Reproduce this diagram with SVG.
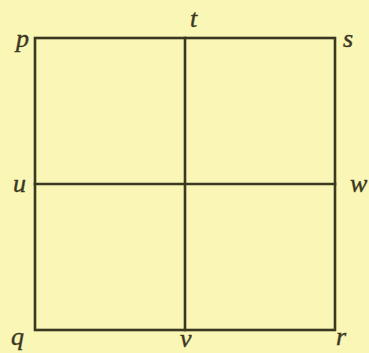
<svg xmlns="http://www.w3.org/2000/svg" width="369" height="353" viewBox="0 0 369 353">
<style>
.ln{stroke:#3b3822;stroke-width:2.6;fill:none;stroke-linecap:square}
.lb{font-family:"Liberation Serif","DejaVu Serif",serif;font-style:italic;font-size:26px;fill:#3a3822;stroke:#3a3822;stroke-width:0.4}
</style>
<rect width="369" height="353" fill="#faf6b6"/>
<g id="connectors">
<rect class="ln" x="35" y="38" width="300" height="292"/>
<line class="ln" x1="185" y1="38" x2="185" y2="330"/>
<line class="ln" x1="35" y1="184" x2="335" y2="184"/>
</g>
<g id="p"><text class="lb" x="16" y="47">p</text></g>
<g id="t"><text class="lb" x="190" y="27">t</text></g>
<g id="s"><text class="lb" x="343" y="47">s</text></g>
<g id="u"><text class="lb" x="13" y="192">u</text></g>
<g id="w"><text class="lb" x="350" y="192">w</text></g>
<g id="q"><text class="lb" x="11" y="345">q</text></g>
<g id="v"><text class="lb" x="180" y="347">v</text></g>
<g id="r"><text class="lb" x="336" y="345">r</text></g>
</svg>
